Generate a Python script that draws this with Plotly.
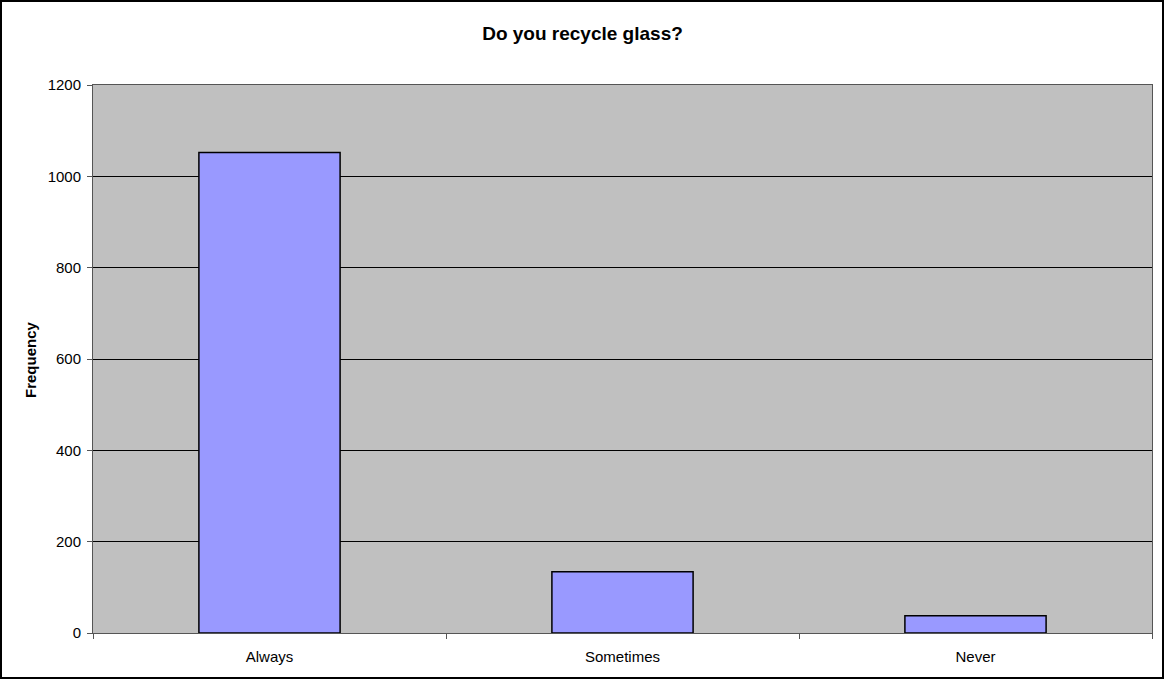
import plotly.graph_objects as go

categories = ["Always", "Sometimes", "Never"]
frequency = [1052, 134, 38]
y_ticks = [0, 200, 400, 600, 800, 1000, 1200]

W, H = 1165, 680
ml, mr, mt, mb = 93, 13, 85, 47
pw, ph = W - ml - mr, H - mt - mb

fig = go.Figure(go.Bar(
    x=categories, y=frequency,
    marker=dict(color="#9999FF", line=dict(color="#000000", width=1.5)),
    width=0.4,
))

font = "Liberation Sans, Arial, sans-serif"
fig.update_layout(
    width=W, height=H,
    margin=dict(l=ml, r=mr, t=mt, b=mb),
    paper_bgcolor="white", plot_bgcolor="#C0C0C0",
    font=dict(family=font, size=15, color="black"),
    title=dict(text="<b>Do you recycle glass?</b>", x=0.5, xanchor="center",
               y=1 - 33 / H, yanchor="middle", font=dict(size=19)),
    showlegend=False,
    xaxis=dict(type="category", tickson="boundaries", ticks="outside", ticklen=5,
               tickcolor="#555555", showline=True, linecolor="#555555", mirror=True,
               showgrid=False, tickfont=dict(size=15), ticklabelstandoff=10),
    yaxis=dict(range=[0, 1200], tickvals=y_ticks, ticks="outside", ticklen=5,
               tickcolor="#555555", showline=True, linecolor="#555555", mirror=True,
               showgrid=True, gridcolor="black", gridwidth=1, zeroline=False,
               tickfont=dict(size=15), ticklabelstandoff=3),
    annotations=[dict(text="<b>Frequency</b>", xref="paper", yref="paper",
                      x=(30 - ml) / pw, y=(H - mb - 360) / ph,
                      xanchor="center", yanchor="middle", textangle=-90,
                      showarrow=False, font=dict(size=15))],
    shapes=[dict(type="rect", xref="paper", yref="paper",
                 x0=(1 - ml) / pw, x1=(1163 - ml) / pw,
                 y0=(H - mb - 678) / ph, y1=(H - mb - 1) / ph,
                 line=dict(color="black", width=2), fillcolor="rgba(0,0,0,0)",
                 layer="below")],
)

fig.write_html("out.html", config={"displayModeBar": False},
               post_script="document.body.style.margin='0';document.body.style.padding='0';")
